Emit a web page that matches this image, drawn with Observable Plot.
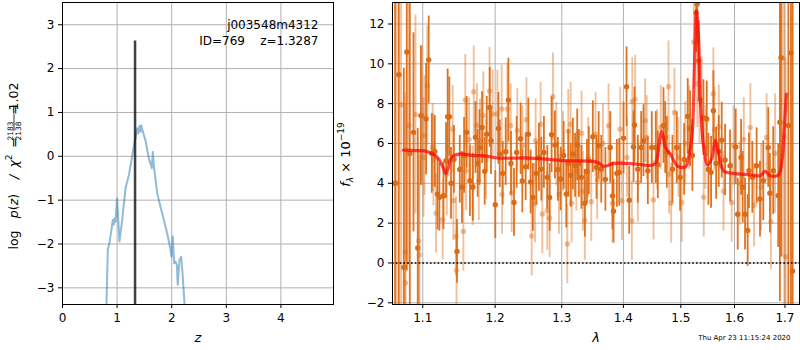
<!DOCTYPE html>
<html><head><meta charset="utf-8">
<script src="https://cdn.jsdelivr.net/npm/d3@7"></script>
<script src="https://cdn.jsdelivr.net/npm/@observablehq/plot@0.6"></script>
<style>
body{margin:0;background:#fff;}
#fig{position:relative;width:800px;height:350px;font-family:"DejaVu Sans",sans-serif;background:#fff;}
#fig svg{position:absolute;top:0;overflow:visible;}
</style></head><body><div id="fig"></div>
<script>
// ---------- data ----------
const objName = "j003548m4312";
const objLine = "ID=769\u00a0\u00a0\u00a0\u00a0z=1.3287";
const zBest = 1.3287;
const zBestTop = 2.63;
const chi2Num = "2183", chi2Den = "2138", chi2Ratio = "1.02";
const stamp = "Thu Apr 23 11:15:24 2020";

const zTicks = [0, 1, 2, 3, 4];
const logpTicks = [-3, -2, -1, 0, 1, 2, 3];
const lamTicks = [1.1, 1.2, 1.3, 1.4, 1.5, 1.6, 1.7];
const fluxTicks = [-2, 0, 2, 4, 6, 8, 10, 12];

const zGrid = [0.800, 0.806, 0.830, 0.861, 0.922, 0.940, 0.958, 0.971, 1.000, 1.044, 1.093, 1.154, 1.215, 1.264, 1.306, 1.343, 1.368, 1.386, 1.410, 1.430, 1.440, 1.489, 1.526, 1.563, 1.588, 1.610, 1.636, 1.654, 1.672, 1.734, 1.795, 1.886, 1.930, 1.978, 1.996, 2.020, 2.045, 2.070, 2.094, 2.110, 2.143, 2.174, 2.200, 2.234, 2.245];
const logPz = [-3.60, -3.35, -2.13, -1.97, -1.45, -1.56, -1.41, -1.49, -0.96, -1.94, -1.45, -0.73, -0.43, -0.08, 0.22, 0.45, 0.64, 0.52, 0.69, 0.56, 0.71, 0.49, 0.33, 0.07, -0.08, -0.16, -0.27, 0.10, -0.20, -0.84, -1.15, -1.60, -1.83, -2.13, -2.29, -1.83, -2.44, -2.40, -2.47, -2.93, -2.36, -2.29, -2.70, -3.35, -3.60];

// [lambda, flux, sigma]
const darkPoints = [
[1.0640,4.0,14],[1.0688,9.45,12],[1.0752,-0.22,10],[1.0791,10.6,11],[1.0830,5.5,8],[1.0878,6.56,5],[1.0934,0.75,6],[1.0975,7.4,3.5],
[1.1044,7.23,2.8],[1.1079,10.2,2.2],[1.1120,5.5,2.0],[1.1160,5.6,1.8],[1.1196,3.46,1.8],[1.1222,3.3,1.7],[1.1277,3.38,1.7],[1.1312,5.14,1.9],
[1.1334,7.34,2.4],[1.1357,7.34,2.0],[1.1380,4.0,1.8],[1.1420,5.2,1.7],[1.1462,0.58,1.6],[1.1500,4.7,1.7],[1.1531,3.8,1.8],[1.1560,5.4,1.9],
[1.1596,6.56,1.8],[1.1642,4.13,1.8],[1.1682,3.8,1.7],[1.1719,6.3,1.8],[1.1750,5.0,1.7],[1.1776,5.8,1.9],[1.1813,6.8,1.8],[1.1850,4.6,1.7],
[1.1879,6.47,1.9],[1.1922,7.81,2.0],[1.1940,6.14,1.7],[1.2002,2.93,1.7],[1.2047,6.76,1.8],[1.2066,5.48,1.7],[1.2110,4.5,1.6],[1.2153,5.59,1.7],
[1.2192,8.18,2.1],[1.2230,5.0,1.6],[1.2275,3.04,1.7],[1.2314,5.55,1.8],[1.2373,6.24,1.8],[1.2398,4.12,1.6],[1.2448,4.83,1.7],[1.2488,6.47,1.8],
[1.2523,4.07,1.6],[1.2557,3.29,1.7],[1.2609,4.5,1.6],[1.2648,5.3,1.7],[1.2685,4.71,1.6],[1.2724,5.55,1.8],[1.2776,4.3,1.6],[1.2812,3.29,1.7],
[1.2842,6.44,1.9],[1.2893,5.93,1.7],[1.2940,4.7,1.6],[1.2982,4.22,1.6],[1.3030,5.4,1.7],[1.3071,3.46,1.7],[1.3102,5.0,1.7],[1.3140,4.4,1.6],
[1.3175,5.47,1.8],[1.3210,4.9,1.6],[1.3244,5.93,1.8],[1.3270,5.0,1.7],[1.3310,4.3,1.6],[1.3366,3.0,1.7],[1.3400,4.6,1.6],[1.3430,5.14,1.7],
[1.3495,6.34,1.8],[1.3555,4.80,1.6],[1.3590,5.9,1.7],[1.3632,4.71,1.7],[1.3700,4.2,1.6],[1.3780,5.80,1.8],[1.3818,3.37,1.7],[1.3835,2.6,1.6],
[1.3890,4.5,1.7],[1.3930,4.55,1.7],[1.4002,6.27,1.8],[1.4053,8.85,2.0],[1.4098,3.15,1.7],[1.4171,5.83,1.8],[1.4188,6.93,1.9],[1.4245,4.71,1.7],
[1.4302,5.80,1.8],[1.4342,6.14,1.8],[1.4417,4.63,1.7],[1.4486,5.80,1.8],[1.4556,5.80,1.8],[1.4591,4.93,1.7],[1.4691,6.9,1.9],[1.4721,6.3,1.8],
[1.4750,5.55,1.8],[1.4850,4.71,1.7],[1.4927,5.80,1.8],[1.4988,4.30,1.7],[1.5060,5.2,1.8],[1.5125,7.36,1.9],[1.5169,6.74,1.9],[1.5210,5.4,1.8],
[1.5280,12.57,2.0],[1.5297,13.0,2.0],[1.5327,10.15,2.0],[1.5413,7.3,1.9],[1.5475,7.23,1.9],[1.5506,4.7,1.8],[1.5556,4.55,1.8],[1.5599,7.65,2.0],
[1.5650,5.0,1.8],[1.5700,5.6,1.8],[1.5756,6.17,1.9],[1.5820,5.17,1.8],[1.5915,4.88,1.8],[1.6023,5.83,1.9],[1.6062,2.45,1.8],[1.6127,5.3,1.9],
[1.6158,3.8,1.8],[1.6204,2.45,1.8],[1.6255,1.63,1.8],[1.6280,4.63,1.9],[1.6347,4.3,1.8],[1.6431,4.88,1.9],[1.6498,3.21,1.9],[1.6563,4.13,2.0],
[1.6662,5.8,2.0],[1.6696,3.5,2.0],[1.6762,4.63,2.2],[1.6863,3.38,2.6],[1.6897,7.07,9],[1.6920,10.3,10],[1.7070,6.9,12],[1.7124,10.55,14],[1.7158,-0.4,14]
];

const lightPoints = [
[1.0660,4.0,12],[1.0717,7.94,10],[1.0770,0.55,8],[1.0774,-1.0,9],[1.0818,6.9,7],[1.0904,7.46,5],[1.0947,1.1,4.5],[1.0956,0.4,5],
[1.0991,7.4,3.5],[1.1009,5.3,3],[1.1022,6.4,3],[1.1060,8.9,3],[1.1132,5.8,2.2],[1.1142,5.17,2.3],[1.1176,2.5,2.0],[1.1267,2.17,2.0],
[1.1322,4.46,2.1],[1.1403,6.72,2.2],[1.1413,3.13,2.0],[1.1449,1.33,2.0],[1.1455,-0.37,2.0],[1.1550,1.58,2.0],[1.1577,8.18,2.3],[1.1586,4.63,2.0],
[1.1630,6.2,2.1],[1.1681,3.88,2.0],[1.1695,8.6,2.3],[1.1740,6.9,2.1],[1.1766,4.13,2.0],[1.1784,6.14,2.1],[1.1830,7.4,2.2],[1.1870,5.2,2.0],
[1.1919,8.63,2.2],[1.1964,7.48,2.2],[1.2032,7.48,2.2],[1.2095,7.73,2.2],[1.2100,3.44,2.0],[1.2177,7.73,2.3],[1.2226,6.9,2.1],[1.2240,3.52,2.0],
[1.2324,6.65,2.1],[1.2400,5.9,2.0],[1.2460,7.2,2.1],[1.2538,1.36,2.0],[1.2588,3.0,2.0],[1.2598,6.14,2.1],[1.2674,6.97,2.1],[1.2700,2.46,2.0],
[1.2776,2.63,2.0],[1.2812,2.26,2.0],[1.2863,8.35,2.2],[1.2915,5.97,2.1],[1.2956,3.44,2.0],[1.3020,5.6,2.0],[1.3087,0.95,2.0],[1.3102,6.61,2.1],
[1.3139,6.97,2.1],[1.3155,3.0,2.0],[1.3230,4.6,2.0],[1.3313,6.52,2.1],[1.3334,3.6,2.0],[1.3366,2.13,2.0],[1.3420,5.3,2.0],[1.3469,3.08,2.0],
[1.3539,6.47,2.1],[1.3566,4.17,2.0],[1.3660,6.0,2.0],[1.3752,6.89,2.1],[1.3818,3.0,2.0],[1.3947,6.72,2.1],[1.3974,3.13,2.0],[1.4060,5.3,2.0],
[1.4143,2.12,2.0],[1.4150,8.11,2.2],[1.4200,8.23,2.2],[1.4245,4.05,2.0],[1.4370,7.14,2.1],[1.4398,6.3,2.1],[1.4515,3.16,2.0],[1.4580,5.7,2.0],
[1.4643,6.8,2.1],[1.4780,8.85,2.3],[1.4790,4.46,2.0],[1.4827,3.0,2.0],[1.4886,7.56,2.2],[1.4957,5.3,2.0],[1.5016,3.04,2.0],[1.5080,6.0,2.1],
[1.5150,6.8,2.1],[1.5237,11.1,2.3],[1.5300,9.0,2.2],[1.5340,8.2,2.2],[1.5380,8.15,2.2],[1.5419,3.3,2.0],[1.5450,5.8,2.1],[1.5599,8.5,2.3],
[1.5618,6.72,2.1],[1.5700,6.84,2.1],[1.5790,3.6,2.0],[1.5946,3.04,2.0],[1.5980,5.9,2.0],[1.6100,4.0,2.1],[1.6180,6.2,2.1],[1.6308,6.81,2.2],
[1.6380,2.9,2.1],[1.6520,3.8,2.2],[1.6629,6.3,2.2],[1.6716,2.07,2.4],[1.6800,5.5,3],[1.6950,10.3,10],[1.6987,6.34,9],[1.7013,0.3,10]
];

// [lambda, model flux]
const modelPoints = [
[1.0748,5.67],[1.0900,5.64],[1.1060,5.60],[1.1195,5.30],[1.1260,4.90],[1.1308,4.50],[1.1345,4.80],[1.1385,5.30],[1.1490,5.47],
[1.1700,5.39],[1.1850,5.38],[1.2030,5.27],[1.2520,5.27],[1.3035,5.14],[1.3510,5.10],[1.3600,5.00],[1.3675,4.85],[1.3840,5.00],
[1.4200,4.97],[1.4460,4.90],[1.4550,5.00],[1.4610,5.90],[1.4655,6.61],[1.4690,6.30],[1.4726,5.80],[1.4815,5.47],[1.4935,4.88],
[1.5084,4.83],[1.5140,5.30],[1.5206,6.48],[1.5247,9.82],[1.5284,12.67],[1.5320,11.50],[1.5357,8.15],[1.5419,5.80],[1.5490,4.93],
[1.5576,5.30],[1.5637,6.17],[1.5700,5.47],[1.5790,4.63],[1.5985,4.50],[1.6310,4.43],[1.6505,4.38],[1.6600,4.60],[1.6705,4.38],
[1.6870,4.43],[1.6940,5.14],[1.6987,6.81],[1.7028,8.48]
];

// ---------- helpers ----------
const minus = d => d < 0 ? "\u2212" + Math.abs(d) : String(d);
const gridStyle = {stroke: "#b0b0b0", strokeOpacity: 1, strokeWidth: 1};
const font = {fontFamily: "DejaVu Sans", fontSize: "12px", background: "transparent", color: "black", overflow: "visible"};
const darkC = "#dc6b15";

const pz = zGrid.map((z, i) => ({z, p: logPz[i]}));
const toObj = a => a.map(([lam, f, e]) => ({lam, f, e}));
const dark = toObj(darkPoints), light = toObj(lightPoints);
const model = modelPoints.map(([lam, f]) => ({lam, f}));

// ---------- left panel ----------
const yDomL = [-3.38, 3.508];
const left = Plot.plot({
  width: 335, height: 350,
  marginLeft: 62, marginRight: 2, marginTop: 2, marginBottom: 46,
  style: font,
  x: {domain: [0, 4.963]},
  y: {domain: yDomL},
  marks: [
    Plot.gridX(zTicks, gridStyle),
    Plot.gridY(logpTicks, gridStyle),
    Plot.line(pz, {x: "z", y: "p", stroke: "#1f77b4", strokeOpacity: 0.5, strokeWidth: 2, clip: true}),
    Plot.ruleX([zBest], {y1: yDomL[0], y2: zBestTop, stroke: "#000", strokeOpacity: 0.75, strokeWidth: 2.5}),
    Plot.frame({stroke: "black"}),
    Plot.axisX({ticks: zTicks, tickSize: 4, tickPadding: 5, label: null, tickFormat: minus}),
    Plot.axisY({ticks: logpTicks, tickSize: 4, tickPadding: 4, label: null, tickFormat: minus}),
    Plot.text([objName], {frameAnchor: "top-right", dx: -15, dy: 18, textAnchor: "end", fontSize: 12}),
    Plot.text([objLine], {frameAnchor: "top-right", dx: -15, dy: 33.5, textAnchor: "end", fontSize: 12}),
    Plot.text(["z"], {frameAnchor: "bottom", dy: 37, fontStyle: "italic", fontSize: 13})
  ]
});

// ---------- right panel ----------
const yDomR = [-2.085, 13.08];
const right = Plot.plot({
  width: 465, height: 350,
  marginLeft: 57, marginRight: 1, marginTop: 2, marginBottom: 46,
  style: font,
  x: {type: "log", domain: [1.0607, 1.730]},
  y: {domain: yDomR},
  marks: [
    Plot.gridX(lamTicks, gridStyle),
    Plot.gridY(fluxTicks, gridStyle),
    Plot.ruleX(light, {x: "lam", y1: d => d.f - d.e, y2: d => d.f + d.e, stroke: darkC, strokeOpacity: 0.42, strokeWidth: 1.9, clip: true}),
    Plot.dot(light, {x: "lam", y: "f", r: 2.7, fill: darkC, fillOpacity: 0.42, stroke: "none", clip: true}),
    Plot.ruleX(dark, {x: "lam", y1: d => d.f - d.e, y2: d => d.f + d.e, stroke: darkC, strokeOpacity: 0.95, strokeWidth: 1.8, clip: true}),
    Plot.dot(dark, {x: "lam", y: "f", r: 2.7, fill: darkC, stroke: "none", clip: true}),
    Plot.line(model, {x: "lam", y: "f", stroke: "red", strokeOpacity: 0.72, strokeWidth: 3.2, curve: "catmull-rom", clip: true}),
    Plot.ruleY([0], {stroke: "black", strokeWidth: 1.6, strokeDasharray: "1.6,2.2"}),
    Plot.frame({stroke: "black"}),
    Plot.axisX({ticks: lamTicks, tickSize: 4, tickPadding: 5, label: null, tickFormat: d3.format(".1f")}),
    Plot.axisY({ticks: fluxTicks, tickSize: 4, tickPadding: 4, label: null, tickFormat: minus}),
    Plot.text(["\u03bb"], {frameAnchor: "bottom", dy: 37, fontStyle: "italic", fontSize: 13}),
    Plot.text([stamp], {frameAnchor: "bottom-right", dx: -9, dy: 35.5, textAnchor: "end", fontSize: 7})
  ]
});

const fig = document.getElementById("fig");
left.style.left = "0px";
right.style.left = "335px";
fig.appendChild(left);
fig.appendChild(right);

// ---------- left y label (pieces placed along the rotated baseline) ----------
(function () {
  const g = d3.select(left).append("g")
    .attr("font-family", "DejaVu Sans").attr("font-size", 12.5).attr("fill", "black")
    .attr("transform", "translate(17.5,240) rotate(-90)");
  g.append("text").attr("x", 0).text("log");
  const p = g.append("text").attr("x", 34);
  p.append("tspan").attr("font-style", "italic").text("p");
  p.append("tspan").text("(");
  p.append("tspan").attr("font-style", "italic").text("z");
  p.append("tspan").text(")");
  g.append("text").attr("x", 63).attr("font-style", "italic").text("/");
  const c = g.append("text").attr("x", 79);
  c.append("tspan").attr("font-style", "italic").text("\u03c7");
  c.append("tspan").attr("font-size", 9).attr("dy", -5.5).text("2");
  g.append("text").attr("x", 97.5).text("=");
  g.append("text").attr("x", 109).attr("y", -4.8).attr("font-size", 7.5).text(chi2Num);
  g.append("text").attr("x", 109).attr("y", 3.0).attr("font-size", 7.5).text(chi2Den);
  g.append("line").attr("x1", 109).attr("x2", 126).attr("y1", -3.5).attr("y2", -3.5)
    .attr("stroke", "black").attr("stroke-width", 0.8);
  g.append("text").attr("x", 130.5).text("=");
  g.append("text").attr("x", 143.5).text(chi2Ratio);
})();

// ---------- right y label ----------
(function () {
  const g = d3.select(right).append("g").attr("font-family", "DejaVu Sans").attr("font-size", 13).attr("fill", "black")
    .attr("transform", "translate(14.5,154.5) rotate(-90)");
  const t = g.append("text").attr("text-anchor", "middle");
  t.append("tspan").attr("font-style", "italic").text("f");
  t.append("tspan").attr("font-size", 9).attr("dy", 3).attr("font-style", "italic").text("\u03bb");
  t.append("tspan").attr("dy", -3).text("\u00a0\u00d7\u00a010");
  t.append("tspan").attr("font-size", 9).attr("dy", -5.5).text("\u221219");
})();
</script></body></html>
